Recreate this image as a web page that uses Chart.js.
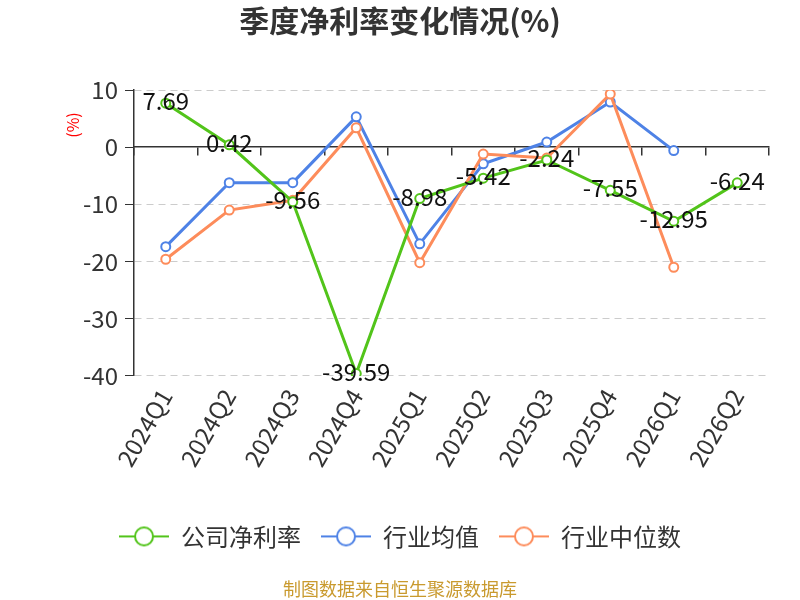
<!DOCTYPE html>
<html>
<head>
<meta charset="utf-8">
<script src="https://cdn.jsdelivr.net/npm/chart.js@4.4.1/dist/chart.umd.min.js"></script>
<style>
  html, body { margin: 0; padding: 0; background: #fff; }
  #box { width: 800px; height: 600px; }
</style>
</head>
<body>
<div id="box"><canvas id="grafico" width="800" height="600"></canvas></div>
<script>
// valores
const quarters = ['2024Q1', '2024Q2', '2024Q3', '2024Q4', '2025Q1', '2025Q2', '2025Q3', '2025Q4', '2026Q1', '2026Q2'];
const companyRate = [7.69, 0.42, -9.56, -39.59, -8.98, -5.42, -2.24, -7.55, -12.95, -6.24];
const industryAvg = [-17.4, -6.2, -6.2, 5.3, -16.9, -2.9, 0.9, 7.9, -0.6, null];
const industryMedian = [-19.6, -11.0, -9.3, 3.4, -20.2, -1.2, -1.9, 9.3, -21.0, null];
const yTicks = [10, 0, -10, -20, -30, -40];
const seriesNames = ['公司净利率', '行业均值', '行业中位数'];

const FONT = "'Noto Sans CJK SC', 'Noto Sans', sans-serif";
const colors = ['#52c41a', '#4e82e6', '#fd8c5b'];

function legendIcon(color) {
    const c = document.createElement('canvas');
    c.width = 50; c.height = 22;
    const g = c.getContext('2d');
    g.strokeStyle = color;
    g.lineWidth = 2;
    g.beginPath(); g.moveTo(0, 11); g.lineTo(50, 11); g.stroke();
    g.beginPath(); g.arc(25, 11, 9, 0, Math.PI * 2);
    g.fillStyle = '#fff'; g.fill(); g.stroke();
    return c;
}
const icons = colors.map(legendIcon);

const valueLabels = {
    id: 'valueLabels',
    afterDatasetsDraw(chart) {
        const ctx = chart.ctx;
        const meta = chart.getDatasetMeta(0);
        ctx.save();
        ctx.font = '24px ' + FONT;
        ctx.fillStyle = '#111';
        ctx.textAlign = 'center';
        ctx.textBaseline = 'middle';
        meta.data.forEach((pt, i) => {
            ctx.fillText(companyRate[i].toFixed(2), pt.x, pt.y - 2);
        });
        ctx.restore();
    }
};

const unitLabel = {
    id: 'unitLabel',
    afterDraw(chart) {
        const { ctx, chartArea } = chart;
        ctx.save();
        ctx.translate(chartArea.left - 61, chartArea.top + 35);
        ctx.rotate(-Math.PI / 2);
        ctx.font = '16px ' + FONT;
        ctx.fillStyle = '#ff0000';
        ctx.textAlign = 'center';
        ctx.textBaseline = 'middle';
        ctx.fillText('(%)', 0, 0);
        ctx.restore();
    }
};

function serie(i, data, order) {
    return {
        label: seriesNames[i],
        data,
        order,
        borderColor: colors[i],
        backgroundColor: '#fff',
        borderWidth: 3,
        pointRadius: 4.5,
        pointBorderWidth: 2,
        pointBackgroundColor: '#fff',
        pointBorderColor: colors[i],
        tension: 0,
        spanGaps: false
    };
}

new Chart(document.getElementById('grafico').getContext('2d'), {
    type: 'line',
    data: {
        labels: quarters,
        datasets: [
            serie(0, companyRate, 0),
            serie(1, industryAvg, 2),
            serie(2, industryMedian, 1)
        ]
    },
    options: {
        responsive: false,
        animation: false,
        devicePixelRatio: 1,
        layout: { padding: { left: 31, right: 31, top: 0, bottom: 0 } },
        plugins: {
            tooltip: { enabled: false },
            title: {
                display: true,
                text: '季度净利率变化情况(%)',
                color: '#333',
                font: { family: FONT, size: 30, weight: 'bold' },
                padding: { top: 3, bottom: 51 }
            },
            subtitle: {
                display: true,
                position: 'bottom',
                text: '制图数据来自恒生聚源数据库',
                color: '#c99a2e',
                font: { family: FONT, size: 18 },
                padding: { top: 20, bottom: 0 }
            },
            legend: {
                position: 'bottom',
                labels: {
                    usePointStyle: true,
                    pointStyleWidth: 50,
                    padding: 20,
                    color: '#333',
                    font: { family: FONT, size: 24 },
                    sort: (a, b) => a.datasetIndex - b.datasetIndex,
                    generateLabels(chart) {
                        const items = Chart.defaults.plugins.legend.labels.generateLabels(chart);
                        items.forEach(it => { it.pointStyle = icons[it.datasetIndex]; });
                        return items;
                    }
                }
            }
        },
        scales: {
            x: {
                offset: true,
                grid: { display: false, offset: true },
                border: { display: false },
                ticks: {
                    color: '#333',
                    font: { family: FONT, size: 24 },
                    minRotation: 60,
                    maxRotation: 60,
                    padding: 0
                },
                afterFit(scale) { scale.height += 33; }
            },
            x0: {
                type: 'category',
                labels: quarters,
                position: { y: 0 },
                offset: true,
                grid: { drawOnChartArea: false, offset: true, tickLength: 8, color: '#333', lineWidth: 1.5 },
                border: { display: true, color: '#333', width: 1.5 },
                ticks: { display: false }
            },
            y: {
                min: -40,
                max: 10,
                afterBuildTicks(scale) {
                    scale.ticks = yTicks.map(v => ({ value: v }));
                },
                afterFit(scale) { scale.width = 103; },
                grid: {
                    color: c => (c.tick && c.tick.value === 0) ? 'rgba(0,0,0,0)' : '#ccc',
                    lineWidth: 1,
                    tickLength: 9,
                    tickColor: '#333',
                    tickBorderDash: []
                },
                border: { display: true, color: '#333', width: 1.5, dash: [7, 5] },
                ticks: {
                    color: '#333',
                    font: { family: FONT, size: 24 },
                    padding: 7
                }
            }
        }
    },
    plugins: [valueLabels, unitLabel]
});
</script>
</body>
</html>
